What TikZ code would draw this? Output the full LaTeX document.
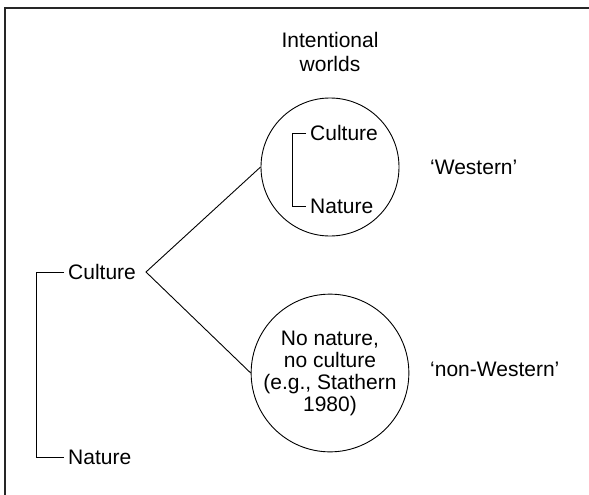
\documentclass[tikz,border=0pt]{standalone}
\usepackage{fontspec}
\setmainfont{Liberation Sans}
\begin{document}
\begin{tikzpicture}[x=1pt,y=-1pt,
  lbl/.style={inner sep=0pt,font=\fontsize{21}{24}\selectfont},
  world/.style={draw,line width=0.9pt,circle,minimum size=138pt,inner sep=0pt,align=center,font=\fontsize{21}{22}\selectfont},
  conn/.style={line width=0.9pt}]
\useasboundingbox (0,0) rectangle (589,495);
\draw[line width=1.6pt,black!85] (5,495) -- (5,8) -- (589,8);
\node[lbl,align=center] (title) at (330,52) {Intentional\\worlds};
\node[world] (w1) at (330,167) {};
\node[world] (w2) at (330,373) {No nature,\\no culture\\(e.g., Stathern\\1980)};
\node[lbl,anchor=west] (west) at (430,167) {‘Western’};
\node[lbl,anchor=west] (nonwest) at (430,369) {‘non-Western’};
\node[lbl,anchor=west] (ic) at (310,133) {Culture};
\node[lbl,anchor=west] (in) at (310,206) {Nature};
\node[lbl,anchor=west] (lc) at (68,272) {Culture};
\node[lbl,anchor=west] (ln) at (68,457) {Nature};
\coordinate (apex) at (146,272);
\draw[conn] (w1.west) -- (apex) -- (w2.west);
\draw[conn] ([xshift=-4pt]ic.west) -| (292,206) -- ([xshift=-4pt]in.west);
\draw[conn] ([xshift=-4pt]lc.west) -| (36,457) -- ([xshift=-4pt]ln.west);
\end{tikzpicture}
\end{document}
